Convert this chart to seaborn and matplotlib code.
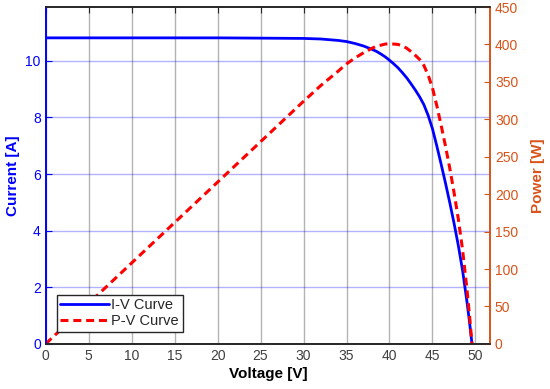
import seaborn as sns
import matplotlib.pyplot as plt
from matplotlib.lines import Line2D

# values
voltage = [0, 5, 10, 15, 20, 25, 30, 32, 34, 35, 36, 37, 38, 38.5, 39,
           39.5, 40, 40.5, 41, 41.5, 42, 42.5, 43, 43.5, 44, 44.5, 45,
           45.5, 46, 46.5, 47, 47.5, 48, 48.5, 49, 49.3, 49.6]
current = [10.81, 10.81, 10.81, 10.81, 10.81, 10.80, 10.79, 10.77, 10.72,
           10.68, 10.61, 10.52, 10.40, 10.33, 10.24, 10.14, 10.02, 9.89,
           9.75, 9.58, 9.40, 9.19, 8.97, 8.73, 8.45, 8.07, 7.60, 7.00, 6.36,
           5.70, 5.01, 4.28, 3.49, 2.60, 1.52, 0.80, 0.0]
power = [0, 54, 108, 162, 216, 270, 324, 345, 364, 374, 382, 389, 395, 398,
         399, 400.5, 401, 400.5, 400, 398, 395, 390.5, 385.5, 380, 372, 359,
         342, 318.5, 292.5, 265, 235.5, 203, 167.5, 126, 74.5, 39.5, 0]

x_ticks = list(range(0, 55, 5))
i_ticks = [0, 2, 4, 6, 8, 10]
p_ticks = list(range(0, 500, 50))

BLUE = "#0000ff"
ORANGE = "#d95319"
DARK = "#262626"

sns.set_style("white")
plt.rcParams["font.family"] = ["Liberation Sans", "DejaVu Sans"]

fig, ax = plt.subplots(figsize=(5.5, 3.89), dpi=100)
fig.subplots_adjust(left=0.083, right=0.891, bottom=0.116, top=0.982)
ax2 = ax.twinx()

sns.lineplot(x=voltage, y=current, ax=ax, color=BLUE, lw=2, legend=False)
sns.lineplot(x=voltage, y=power, ax=ax2, color="red", lw=2.2,
             linestyle="--", legend=False)
ax2.lines[0].set_dashes((2.6, 1.6))

ax.set_xlim(0, 51.7)
ax.set_ylim(0, 11.9)
ax2.set_ylim(0, 450)
ax.set_xticks(x_ticks)
ax.set_yticks(i_ticks)
ax2.set_yticks(p_ticks)

ax.grid(axis="x", color="#9a9a9a", lw=1, alpha=0.75)
ax.grid(axis="y", color=BLUE, lw=1, alpha=0.3)
ax.set_axisbelow(True)

ax.set_xlabel("Voltage [V]", fontsize=11, fontweight="bold", color="black",
              labelpad=3)
ax.set_ylabel("Current [A]", fontsize=11, fontweight="bold", color=BLUE,
              labelpad=4)
ax2.set_ylabel("Power [W]", fontsize=11, fontweight="bold", color=ORANGE,
               labelpad=9)

ax.tick_params(axis="x", colors=DARK, labelsize=10, direction="in",
               top=True, length=4, labelcolor="#404040")
ax.tick_params(axis="y", colors=BLUE, labelsize=10, direction="in", length=4)
ax2.tick_params(axis="y", colors=ORANGE, labelsize=10, direction="in",
                length=4)

for a in (ax, ax2):
    a.spines["top"].set_color(DARK)
    a.spines["bottom"].set_color(DARK)
    a.spines["left"].set_color(BLUE)
    a.spines["right"].set_color(ORANGE)
    for s in a.spines.values():
        s.set_linewidth(1.2)

handles = [Line2D([], [], color=BLUE, lw=2),
           Line2D([], [], color="red", lw=2.2, dashes=(2.6, 1.6))]
leg = ax2.legend(handles, ["I-V Curve", "P-V Curve"], loc="lower left",
                 bbox_to_anchor=(0.025, 0.035), fontsize=10.5, frameon=True,
                 fancybox=False, framealpha=1, edgecolor="#262626",
                 handlelength=3.3, borderpad=0.25, labelspacing=0.15,
                 handletextpad=0.2, borderaxespad=0)
leg.get_frame().set_linewidth(1)

fig.savefig("out.png", dpi=100)
